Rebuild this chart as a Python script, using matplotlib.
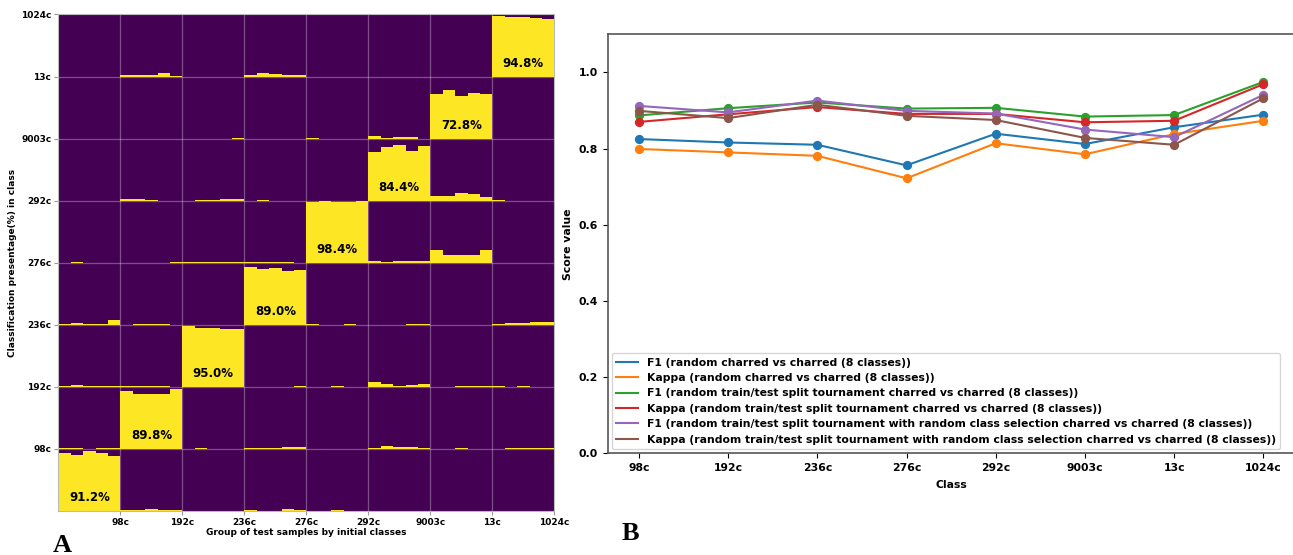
import matplotlib
matplotlib.use("Agg")
import matplotlib.pyplot as plt

classes = ['98c', '192c', '236c', '276c', '292c', '9003c', '13c', '1024c']

# left panel: share (%) of each test group (column) put into each class (row), 5 folds per cell
diag_folds = [
    [93.5, 90.3, 96.8, 93.5, 88.0],
    [93.0, 88.7, 89.2, 88.2, 96.2],
    [97.5, 95.0, 95.0, 94.0, 93.0],
    [92.5, 90.0, 91.5, 86.0, 88.7],
    [98.5, 99.0, 97.5, 98.0, 99.0],
    [78.5, 86.6, 89.0, 80.0, 88.0],
    [72.0, 79.0, 69.0, 73.0, 72.0],
    [97.8, 96.2, 96.2, 95.0, 93.5],
]
diag_pct = [91.2, 89.8, 95.0, 89.0, 98.4, 84.4, 72.8, 94.8]

# (group, predicted class): folds
off_folds = {
    (1, 7): [3, 3, 2, 5, 0.8],
    (3, 7): [3, 5, 4.5, 3, 3],
    (2, 6): [0, 0, 0, 0, 1],
    (4, 6): [1, 0, 0, 0, 0],
    (5, 6): [5, 1, 2.5, 3, 0],
    (1, 5): [2, 2, 1, 0, 0],
    (2, 5): [0, 1.5, 1.5, 2.5, 3.5],
    (3, 5): [0, 1, 0, 0, 0],
    (6, 5): [8, 8, 13, 11, 6],
    (7, 5): [1, 0, 0, 0, 0],
    (0, 4): [0, 1, 0, 0, 0],
    (1, 4): [0, 0, 0, 0, 1],
    (2, 4): [1.5, 1, 1.5, 1.5, 1],
    (3, 4): [1, 1, 1.5, 1, 0],
    (5, 4): [2, 1, 2, 3, 2],
    (6, 4): [20, 13, 13, 13, 20],
    (0, 3): [2, 3, 2, 2, 7],
    (1, 3): [0, 1, 1, 2, 0],
    (4, 3): [1, 0, 0, 1, 0],
    (5, 3): [0, 0, 0, 2, 1],
    (7, 3): [1, 2.5, 2.5, 4, 4],
    (0, 2): [2, 3, 1, 2, 1],
    (1, 2): [1, 1, 1, 1, 0],
    (3, 2): [0, 0, 0, 0, 1],
    (4, 2): [0, 0, 1, 0, 0],
    (5, 2): [8, 4, 2, 3, 4],
    (6, 2): [0, 0, 1, 1, 1],
    (7, 2): [1, 0, 1, 0, 0],
    (0, 1): [1.5, 1, 0, 2, 2],
    (2, 1): [0, 1, 0, 0, 0],
    (3, 1): [1.5, 1.5, 1.5, 2.5, 2.5],
    (5, 1): [2, 4, 3, 3.5, 2],
    (6, 1): [0, 0, 1.5, 0, 0],
    (7, 1): [0, 1.5, 1, 1, 1.5],
    (1, 0): [0.8, 2, 2.5, 2, 1],
    (2, 0): [0, 0.5, 0.5, 0.5, 0.5],
    (3, 0): [1, 0, 0, 4, 2],
    (4, 0): [0, 0, 1, 0.7, 0.7],
}

# right panel scores
f1_random = [0.825, 0.816, 0.810, 0.756, 0.839, 0.812, 0.856, 0.889]
kappa_random = [0.799, 0.790, 0.781, 0.722, 0.814, 0.785, 0.838, 0.873]
f1_tournament = [0.887, 0.906, 0.921, 0.905, 0.907, 0.884, 0.888, 0.975]
kappa_tournament = [0.870, 0.890, 0.909, 0.891, 0.891, 0.869, 0.873, 0.969]
f1_tour_cls = [0.912, 0.895, 0.926, 0.899, 0.892, 0.850, 0.830, 0.941]
kappa_tour_cls = [0.899, 0.880, 0.915, 0.886, 0.875, 0.828, 0.810, 0.932]

series = [
    (f1_random, 'F1 (random charred vs charred (8 classes))'),
    (kappa_random, 'Kappa (random charred vs charred (8 classes))'),
    (f1_tournament, 'F1 (random train/test split tournament charred vs charred (8 classes))'),
    (kappa_tournament, 'Kappa (random train/test split tournament charred vs charred (8 classes))'),
    (f1_tour_cls, 'F1 (random train/test split tournament with random class selection charred vs charred (8 classes))'),
    (kappa_tour_cls, 'Kappa (random train/test split tournament with random class selection charred vs charred (8 classes))'),
]

PURPLE = '#440154'
YELLOW = '#fde725'
n_folds = 5

fig = plt.figure(figsize=(12.93, 5.55), dpi=100)

# ---- panel A ----
axa = fig.add_axes([0.0451, 0.0793, 0.3836, 0.8946])
axa.set_facecolor(PURPLE)
for i in range(1, 8):
    axa.axvline(i, color='white', alpha=0.3, lw=0.9, zorder=1)
    axa.axhline(i, color='white', alpha=0.3, lw=0.9, zorder=1)

cells = dict(off_folds)
for i, folds in enumerate(diag_folds):
    cells[(i, i)] = folds
for (col, row), folds in cells.items():
    xs = [col + (k + 0.5) / n_folds for k in range(n_folds)]
    hs = [v / 100 for v in folds]
    axa.bar(xs, hs, width=1 / n_folds, bottom=row, color=YELLOW, lw=0, zorder=2)

for i, pct in enumerate(diag_pct):
    axa.text(i + 0.5, i + 0.21, f'{pct:.1f}%', ha='center', va='center',
             fontsize=8.5, fontweight='bold', color='black', zorder=3)

axa.set_xlim(0, 8)
axa.set_ylim(0, 8)
axa.set_xticks(range(1, 9))
axa.set_yticks(range(1, 9))
axa.set_xticklabels(classes, fontsize=6.5, fontweight='bold')
axa.set_yticklabels(classes, fontsize=6.5, fontweight='bold')
axa.tick_params(length=3, color='#999999', pad=2)
for s in axa.spines.values():
    s.set_color('#bbbbbb')
axa.set_xlabel('Group of test samples by initial classes', fontsize=6.5,
               fontweight='bold', labelpad=1)
axa.set_ylabel('Classification presentage(%) in class', fontsize=6.5,
               fontweight='bold', labelpad=3)

# ---- panel B ----
axb = fig.add_axes([0.470, 0.1832, 0.5312, 0.755])
x = list(range(len(classes)))
for vals, label in series:
    line, = axb.plot(x, vals, lw=1.5, label=label)
    axb.scatter(x, vals, s=32, color=line.get_color(), zorder=3)
axb.set_ylim(0, 1.1)
axb.set_yticks([0.0, 0.2, 0.4, 0.6, 0.8, 1.0])
axb.set_yticklabels(['0.0', '0.2', '0.4', '0.6', '0.8', '1.0'], fontsize=7.8, fontweight='bold')
axb.set_xticks(x)
axb.set_xticklabels(classes, fontsize=7.8, fontweight='bold')
axb.set_xlabel('Class', fontsize=7.8, fontweight='bold', labelpad=5)
axb.set_ylabel('Score value', fontsize=7.8, fontweight='bold')
for s in axb.spines.values():
    s.set_color('#555555')
    s.set_linewidth(1.2)
leg = axb.legend(loc='lower left', prop={'size': 7.8, 'weight': 'bold'},
                 borderaxespad=0.4, handlelength=2.0, labelspacing=0.5)

fig.text(0.041, 0.006, 'A', fontsize=19, fontweight='bold', family='Liberation Serif')
fig.text(0.481, 0.027, 'B', fontsize=19, fontweight='bold', family='Liberation Serif')

fig.savefig('out.png', dpi=100)
